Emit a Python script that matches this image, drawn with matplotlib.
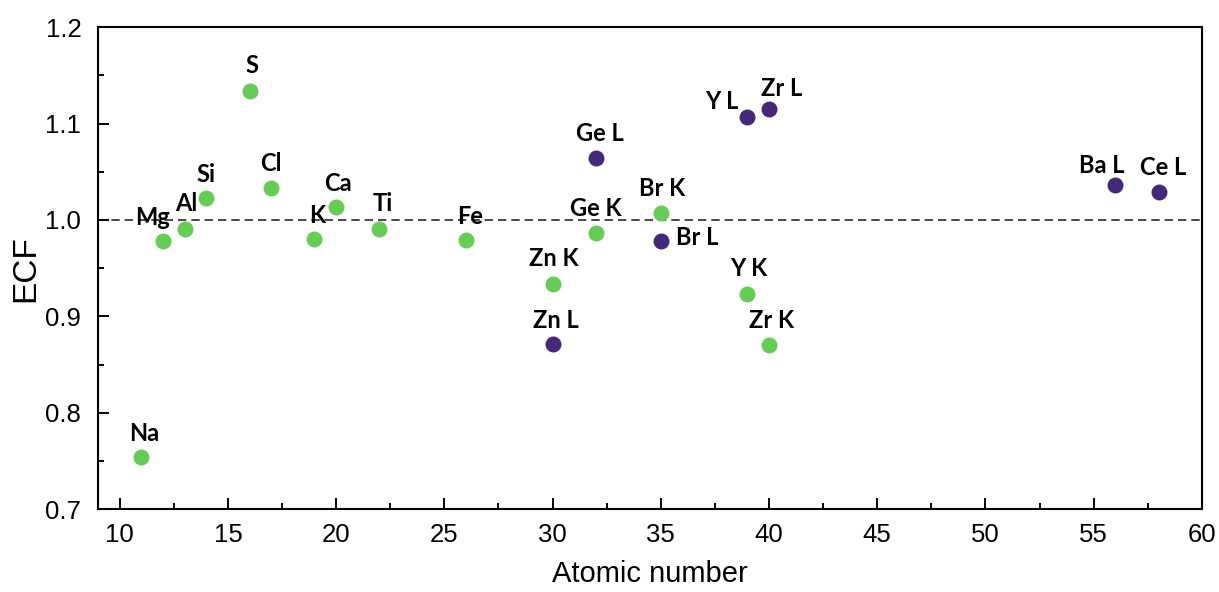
import matplotlib.pyplot as plt
from matplotlib.ticker import MultipleLocator

# K lines / light elements (green)
k_names = ['Na', 'Mg', 'Al', 'Si', 'S', 'Cl', 'K', 'Ca', 'Ti', 'Fe',
           'Zn K', 'Ge K', 'Br K', 'Y K', 'Zr K']
k_z = [11, 12, 13, 14, 16, 17, 19, 20, 22, 26, 30, 32, 35, 39, 40]
k_ecf = [0.754, 0.978, 0.991, 1.023, 1.134, 1.033, 0.980, 1.013, 0.991, 0.979,
         0.934, 0.986, 1.007, 0.923, 0.870]

# L lines (purple)
l_names = ['Zn L', 'Ge L', 'Br L', 'Y L', 'Zr L', 'Ba L', 'Ce L']
l_z = [30, 32, 35, 39, 40, 56, 58]
l_ecf = [0.871, 1.064, 0.978, 1.107, 1.115, 1.036, 1.029]

# label offsets (pixels, relative to the point)
offsets = {
    'Na': (3, 24), 'Mg': (-10, 24), 'Al': (2, 25), 'Si': (0, 23), 'S': (2, 25),
    'Cl': (0, 25), 'K': (3, 24), 'Ca': (2, 24), 'Ti': (3, 25), 'Fe': (4, 24),
    'Zn K': (1, 25), 'Ge K': (0, 25), 'Br K': (1, 25), 'Y K': (1, 26), 'Zr K': (3, 25),
    'Zn L': (3, 24), 'Ge L': (4, 25), 'Br L': (36, 4), 'Y L': (-26, 15),
    'Zr L': (13, 21), 'Ba L': (-14, 20), 'Ce L': (4, 25),
}

green = '#66cc55'
purple = '#46287a'

plt.rcParams['font.family'] = 'Liberation Sans'
fig = plt.figure(figsize=(12.19, 5.92), dpi=100)
ax = fig.add_axes([0.0804, 0.140, 0.9056, 0.814])

ax.axhline(1.0, color='#2a2a2a', linestyle=(0, (5, 3)), linewidth=1.2, zorder=1)
ax.plot(k_z, k_ecf, 'o', color=green, markersize=11.5, markeredgewidth=0, zorder=3)
ax.plot(l_z, l_ecf, 'o', color=purple, markersize=11.5, markeredgewidth=0, zorder=3)

for names, xs, ys in [(k_names, k_z, k_ecf), (l_names, l_z, l_ecf)]:
    for n, x, y in zip(names, xs, ys):
        dx, dy = offsets[n]
        ax.annotate(n, (x, y), xytext=(dx * 0.72, dy * 0.72), textcoords='offset points',
                    ha='center', va='center', fontsize=17, fontweight='bold',
                    family=['Lato', 'DejaVu Sans'], color='black', zorder=4)

ax.set_xlim(9, 60)
ax.set_ylim(0.7, 1.2)
ax.xaxis.set_major_locator(MultipleLocator(5))
ax.xaxis.set_minor_locator(MultipleLocator(2.5))
ax.yaxis.set_major_locator(MultipleLocator(0.1))
ax.yaxis.set_minor_locator(MultipleLocator(0.05))
ax.yaxis.set_major_formatter(plt.FuncFormatter(lambda v, p: f'{v:.1f}'))

ax.tick_params(which='both', direction='in', top=False, right=False, width=1.4,
               labelsize=18.5, colors='black')
ax.tick_params(which='major', length=8)
ax.tick_params(axis='x', which='major', pad=10)
ax.tick_params(axis='y', which='major', pad=12)
ax.tick_params(which='minor', length=4.5)
for s in ax.spines.values():
    s.set_linewidth(1.5)

ax.set_xlabel('Atomic number', fontsize=21, labelpad=9)
ax.set_ylabel('ECF', fontsize=24, labelpad=3)

fig.savefig('out.png', dpi=100)
